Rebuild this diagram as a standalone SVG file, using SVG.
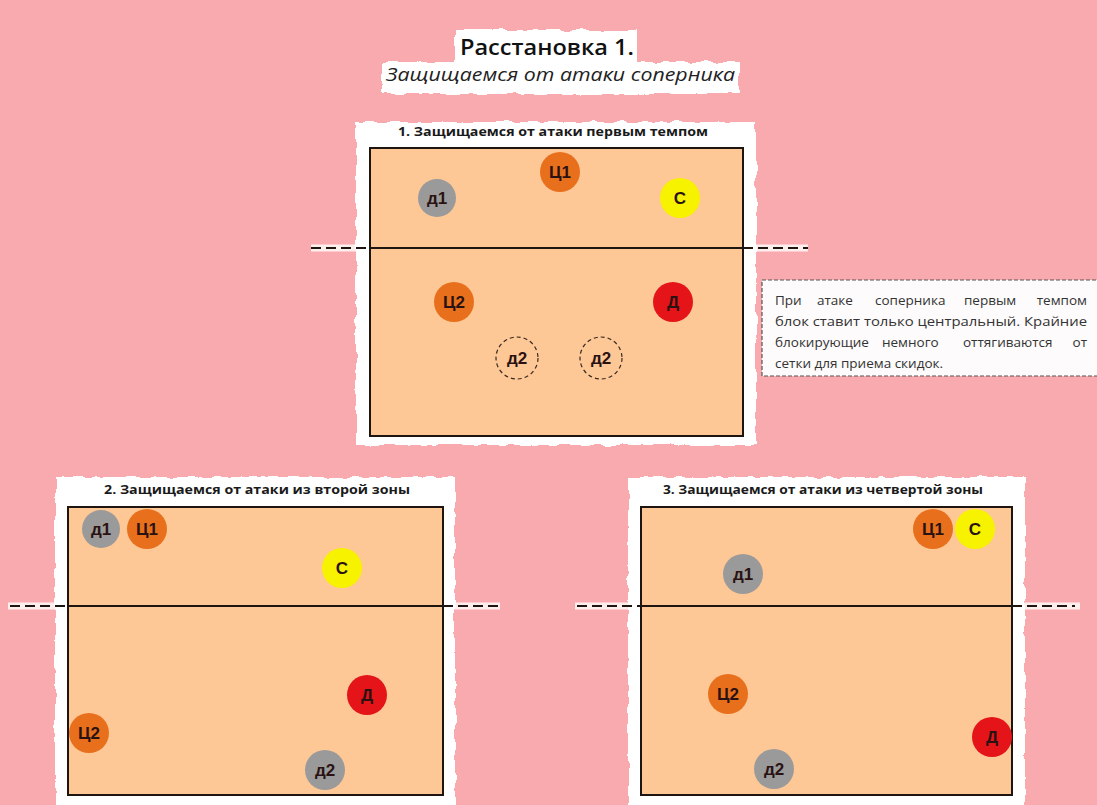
<svg xmlns="http://www.w3.org/2000/svg" width="1097" height="805" viewBox="0 0 1097 805">
  <defs>
    <filter id="torn" x="-5%" y="-5%" width="110%" height="110%">
      <feTurbulence type="fractalNoise" baseFrequency="0.08" numOctaves="2" seed="3" result="n"/>
      <feDisplacementMap in="SourceGraphic" in2="n" scale="6" xChannelSelector="R" yChannelSelector="G"/>
    </filter>
    <style>
      .paper { fill: #ffffff; filter: url(#torn); }
      .court { fill: #fdc796; stroke: #1e1410; stroke-width: 2; }
      .net { stroke: #1e1410; stroke-width: 2; }
      .netx { stroke: #1e1410; stroke-width: 2.2; stroke-dasharray: 10 5; }
      .halo { stroke: #ffffff; stroke-width: 7; opacity: 0.8; }
      .head { font-family: "Open Sans", "Liberation Sans", sans-serif; font-weight: bold; font-size: 13px; fill: #1a1a1a; }
      .lbl { font-family: "Liberation Sans", Arial, sans-serif; font-weight: bold; font-size: 17px; fill: #2a1212; text-anchor: middle; dominant-baseline: central; }
      .d { fill: #9a9a9a; }
      .c { fill: #e8701c; }
      .s { fill: #f7f200; }
      .dd { fill: #e41418; }
      .ghost { fill: none; stroke: #3a2a20; stroke-width: 1.2; stroke-dasharray: 4 3; }
      .note { font-family: "Open Sans", "Liberation Sans", sans-serif; font-size: 13.5px; fill: #333333; }
      .end { text-anchor: end; }
    </style>
  </defs>

  <rect width="1097" height="805" fill="#f9aaae"/>

  <!-- title -->
  <g id="title">
    <rect class="paper" x="455" y="30" width="182" height="34"/>
    <rect class="paper" x="382" y="62" width="357" height="32"/>
    <text x="460" y="55" font-family="Open Sans, Liberation Sans, sans-serif" font-size="22" font-weight="600" fill="#111" textLength="174" lengthAdjust="spacingAndGlyphs">Расстановка 1.</text>
    <text x="386" y="81" font-family="Open Sans, Liberation Sans, sans-serif" font-size="19" font-style="italic" fill="#222" textLength="349" lengthAdjust="spacingAndGlyphs">Защищаемся от атаки соперника</text>
  </g>

  <!-- paper backings -->
  <rect class="paper" x="356" y="122" width="400" height="323"/>
  <rect class="paper" x="55" y="477" width="400" height="335"/>
  <rect class="paper" x="628" y="477" width="397" height="335"/>

  <!-- net lines -->
  <g id="connectors">
    <line class="halo" x1="311" y1="248" x2="369" y2="248"/>
    <line class="halo" x1="743" y1="248" x2="808" y2="248"/>
    <line class="halo" x1="8" y1="606" x2="68" y2="606"/>
    <line class="halo" x1="443" y1="606" x2="500" y2="606"/>
    <line class="halo" x1="575" y1="606" x2="641" y2="606"/>
    <line class="halo" x1="1012" y1="606" x2="1080" y2="606"/>
    <line class="netx" x1="311" y1="248" x2="369" y2="248"/>
    <line class="netx" x1="743" y1="248" x2="808" y2="248"/>
    <line class="netx" x1="10" y1="606" x2="68" y2="606"/>
    <line class="netx" x1="443" y1="606" x2="500" y2="606"/>
    <line class="netx" x1="577" y1="606" x2="641" y2="606"/>
    <line class="netx" x1="1012" y1="606" x2="1075" y2="606"/>
  </g>

  <!-- court 1 -->
  <g id="court1">
    <text class="head" x="398" y="136" textLength="310" lengthAdjust="spacingAndGlyphs">1. Защищаемся от атаки первым темпом</text>
    <rect class="court" x="370" y="148" width="373" height="288"/>
    <line class="net" x1="370" y1="248" x2="743" y2="248"/>
  </g>
  <g id="c1-d1"><circle class="d" cx="437" cy="198" r="19"/><text class="lbl" x="437" y="198">д1</text></g>
  <g id="c1-c1"><circle class="c" cx="560" cy="172" r="20"/><text class="lbl" x="560" y="172">Ц1</text></g>
  <g id="c1-s"><circle class="s" cx="680" cy="198" r="20"/><text class="lbl" x="680" y="198">С</text></g>
  <g id="c1-c2"><circle class="c" cx="454" cy="302" r="20"/><text class="lbl" x="454" y="302">Ц2</text></g>
  <g id="c1-dd"><circle class="dd" cx="673" cy="302" r="20"/><text class="lbl" x="673" y="302">Д</text></g>
  <g id="c1-d2a"><circle class="ghost" cx="517" cy="358" r="21"/><text class="lbl" x="517" y="358">д2</text></g>
  <g id="c1-d2b"><circle class="ghost" cx="601" cy="358" r="21"/><text class="lbl" x="601" y="358">д2</text></g>

  <!-- note, justified word by word -->
  <g id="note">
    <rect x="762" y="280" width="345" height="96" fill="#fdfbfb" stroke="#555" stroke-width="1.2" stroke-dasharray="4 2"/>
    <text class="note" x="775" y="305">При</text>
    <text class="note" x="817" y="305">атаке</text>
    <text class="note" x="875" y="305">соперника</text>
    <text class="note" x="964" y="305">первым</text>
    <text class="note end" x="1087" y="305">темпом</text>
    <text class="note" x="775" y="326" textLength="312" lengthAdjust="spacingAndGlyphs">блок ставит только центральный. Крайние</text>
    <text class="note" x="775" y="347">блокирующие</text>
    <text class="note" x="882" y="347">немного</text>
    <text class="note" x="963" y="347">оттягиваются</text>
    <text class="note end" x="1087" y="347">от</text>
    <text class="note" x="775" y="368">сетки для приема скидок.</text>
  </g>

  <!-- court 2 -->
  <g id="court2">
    <text class="head" x="104" y="494" textLength="306" lengthAdjust="spacingAndGlyphs">2. Защищаемся от атаки из второй зоны</text>
    <rect class="court" x="68" y="507" width="375" height="288"/>
    <line class="net" x1="68" y1="606" x2="443" y2="606"/>
  </g>
  <g id="c2-d1"><circle class="d" cx="101" cy="529" r="19"/><text class="lbl" x="101" y="529">д1</text></g>
  <g id="c2-c1"><circle class="c" cx="147" cy="529" r="20"/><text class="lbl" x="147" y="529">Ц1</text></g>
  <g id="c2-s"><circle class="s" cx="342" cy="568" r="20"/><text class="lbl" x="342" y="568">С</text></g>
  <g id="c2-dd"><circle class="dd" cx="367" cy="695" r="20"/><text class="lbl" x="367" y="695">Д</text></g>
  <g id="c2-c2"><circle class="c" cx="89" cy="733" r="20"/><text class="lbl" x="89" y="733">Ц2</text></g>
  <g id="c2-d2"><circle class="d" cx="325" cy="770" r="20"/><text class="lbl" x="325" y="770">д2</text></g>

  <!-- court 3 -->
  <g id="court3">
    <text class="head" x="663" y="494" textLength="320" lengthAdjust="spacingAndGlyphs">3. Защищаемся от атаки из четвертой зоны</text>
    <rect class="court" x="641" y="507" width="371" height="288"/>
    <line class="net" x1="641" y1="606" x2="1012" y2="606"/>
  </g>
  <g id="c3-c1"><circle class="c" cx="933" cy="529" r="20"/><text class="lbl" x="933" y="529">Ц1</text></g>
  <g id="c3-s"><circle class="s" cx="975" cy="529" r="20"/><text class="lbl" x="975" y="529">С</text></g>
  <g id="c3-d1"><circle class="d" cx="743" cy="574" r="20"/><text class="lbl" x="743" y="574">д1</text></g>
  <g id="c3-c2"><circle class="c" cx="728" cy="694" r="20"/><text class="lbl" x="728" y="694">Ц2</text></g>
  <g id="c3-dd"><circle class="dd" cx="992" cy="737" r="20"/><text class="lbl" x="992" y="737">Д</text></g>
  <g id="c3-d2"><circle class="d" cx="774" cy="769" r="20"/><text class="lbl" x="774" y="769">д2</text></g>
</svg>
